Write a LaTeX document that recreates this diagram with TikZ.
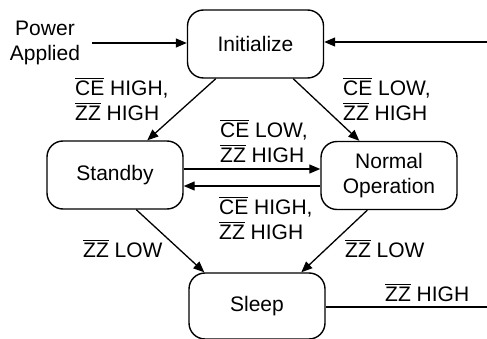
\documentclass[tikz,border=0pt]{standalone}
\usepackage{fontspec}
\setmainfont{Liberation Sans}
\usetikzlibrary{arrows.meta,calc}
\newcommand{\ob}[1]{{\setbox0=\hbox{#1}\rlap{\raisebox{\dimexpr\ht0+1.6pt\relax}{\rule{\wd0}{1.1pt}}}\box0}}
\tikzset{
  statebox/.style={draw, line width=1.4pt, rounded corners=16pt, minimum width=136pt, minimum height=68pt, align=center, inner sep=0pt},
  lbl/.style={align=left, inner sep=0pt, anchor=west},
  arr/.style={line width=1.3pt, -{Triangle[length=11pt,width=9pt]}},
  plain/.style={line width=1.3pt},
}
\begin{document}
\begin{tikzpicture}[x=1pt,y=-1pt, font=\fontsize{21}{25}\selectfont]
\useasboundingbox (0,0) rectangle (487,339);
\node[statebox] (init) at (255.5,44) {Initialize};
\node[statebox] (stby) at (115,175) {Standby};
\node[statebox] (norm) at (389,175.5) {Normal\\Operation};
\node[statebox, minimum height=66pt] (sleep) at (257,306) {Sleep};

\node[align=center, inner sep=0pt] (pwr) at (45,43) {Power\\Applied};
\coordinate (pw) at (92,43);
\coordinate (re) at (487,42);
\coordinate (se) at (487,307);

\draw[arr] (pw) -- (pw -| init.west);
\draw[arr] (re) -- (re -| init.east);
\draw[plain] (sleep.east |- se) -- (se);

\draw[arr] ([xshift=29pt]init.south west) -- ([xshift=101pt]stby.north west);
\draw[arr] ([xshift=-31pt]init.south east) -- ([xshift=39pt]norm.north west);
\draw[arr] ([xshift=90pt]stby.south west) -- ([xshift=16pt]sleep.north west);
\draw[arr] ([xshift=47pt]norm.south west) -- ([xshift=113pt]sleep.north west);

\draw[arr] ([yshift=6pt]stby.east) -- ([yshift=6pt]stby.east -| norm.west);
\draw[arr] ([yshift=-11pt]stby.east -| norm.west) -- ([yshift=-11pt]stby.east);

\node[lbl] (l1) at (75,99) {\ob{CE} HIGH,\\ \ob{ZZ} HIGH};
\node[lbl] (l2) at (343,99) {\ob{CE} LOW,\\ \ob{ZZ} HIGH};
\node[lbl] (l3) at (220,141) {\ob{CE} LOW,\\ \ob{ZZ} HIGH};
\node[lbl] (l4) at (219,218) {\ob{CE} HIGH,\\ \ob{ZZ} HIGH};
\node[lbl] (l5) at (83,249) {\ob{ZZ} LOW};
\node[lbl] (l6) at (345,249) {\ob{ZZ} LOW};
\node[lbl] (l7) at (385,293) {\ob{ZZ} HIGH};
\end{tikzpicture}
\end{document}
